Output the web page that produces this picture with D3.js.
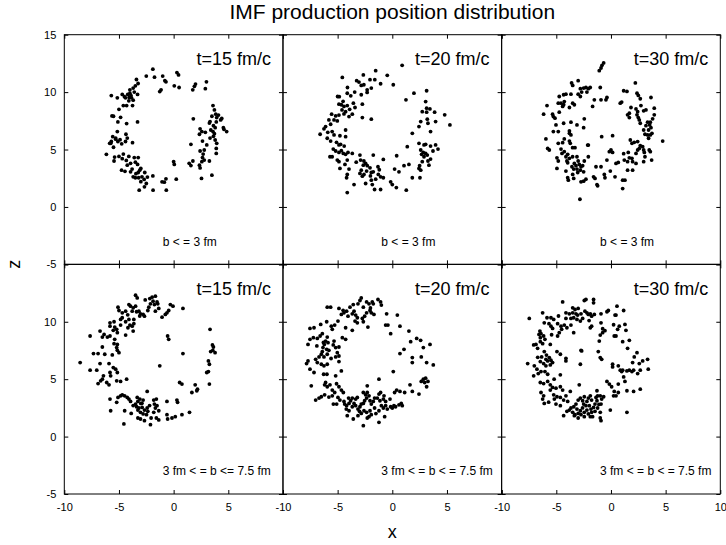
<!DOCTYPE html>
<html>
<head>
<meta charset="utf-8">
<script src="https://cdn.jsdelivr.net/npm/d3@7"></script>
<style>
  body { margin: 0; background: #fff; }
  svg { display: block; font-family: "Liberation Sans", Arial, sans-serif; }
</style>
</head>
<body>
<div id="chart"></div>
<script>
// panel captions
const times = ['t=15 fm/c', 't=20 fm/c', 't=30 fm/c'];
const centralLabels = ['b < = 3 fm', 'b < = 3 fm', 'b < = 3 fm'];
const midLabels = ['3 fm < = b <= 7.5 fm', '3 fm < = b < = 7.5 fm', '3 fm < = b < = 7.5 fm'];
const xTicks = [-10, -5, 0, 5, 10];
const yTicks = [-5, 0, 5, 10, 15];

// b <= 3 fm, t = 15 fm/c   [x, z]
const central15 = [
  [-1.9,12.0],[-2.5,11.4],[-1.75,11.3],[-1.0,11.4],[-0.8,11.0],[-0.7,10.9],[0.3,11.7],[0.45,11.5],[0.06,10.55],[0.5,10.4],
  [-1.15,10.2],[-1.27,10.05],[2.0,10.7],[1.9,10.5],[1.75,10.2],[3.0,10.9],[2.9,10.3],[-3.4,11.1],[-3.25,10.75],[-3.5,10.55],
  [-3.7,10.35],[-4.0,10.2],[-3.6,10.0],[-4.2,9.8],[-3.9,9.7],[-4.06,9.53],[-3.85,9.5],[-3.3,9.8],[-4.4,9.5],[-4.7,9.8],
  [-5.15,9.5],[-5.7,9.7],[-4.1,9.24],[-4.6,8.83],[-4.3,8.83],[-3.76,8.83],[-5.0,8.5],[-5.5,7.9],[-4.85,7.8],[-5.1,7.4],
  [-4.3,7.26],[-3.3,7.4],[-5.7,5.7],[-5.85,5.54],[-5.3,5.9],[-5.1,5.7],[-4.9,5.86],[-4.36,6.33],[-4.24,6.0],[-4.4,5.7],
  [-4.75,5.5],[-5.5,5.2],[-3.76,5.6],[-6.15,4.58],[-5.4,4.34],[-5.0,4.4],[-4.7,4.2],[-5.45,4.0],[-4.33,4.05],[-3.6,4.3],
  [-3.24,4.3],[-3.5,3.9],[-3.3,3.7],[-3.94,3.8],[-4.24,3.64],[-4.76,3.2],[-4.45,3.1],[-3.94,3.06],[-3.0,3.35],[-3.24,3.0],
  [-2.64,3.0],[-3.7,2.62],[-3.5,2.54],[-3.2,2.54],[-2.9,2.62],[-2.7,2.4],[-3.0,2.2],[-2.5,2.04],[-1.9,2.7],[-3.15,1.46],
  [-2.67,1.75],[-1.88,1.46],[-1.06,2.19],[-0.85,2.16],[-0.7,2.45],[-0.67,1.46],[0.24,2.42],[0.0,3.94],[0.06,3.7],[1.58,5.45],
  [1.42,3.8],[1.58,3.6],[1.76,4.0],[1.8,7.67],[2.42,6.8],[2.58,6.56],[2.36,6.33],[2.9,6.5],[3.33,7.43],[3.27,7.3],
  [3.6,8.83],[3.73,8.45],[3.85,8.08],[3.94,7.78],[4.1,8.0],[4.3,7.58],[3.9,7.4],[3.64,7.08],[3.4,6.7],[3.6,6.56],
  [3.73,6.38],[3.64,6.15],[3.8,5.83],[3.33,6.0],[3.94,5.54],[3.9,5.1],[3.9,4.66],[2.64,5.74],[3.03,5.4],[2.42,4.87],
  [2.8,4.96],[2.64,4.3],[2.58,3.94],[2.8,4.08],[3.27,4.0],[2.36,3.64],[2.42,3.4],[2.55,2.48],[3.5,2.77],[4.6,6.76],
  [4.85,6.56],[4.55,6.9],[4.4,7.7],[-5.64,7.93],[-5.57,6.12],[-5.75,5.54],[-5.15,6.56],[-4.0,9.9],[-3.7,9.3],[-5.3,6.0],
  [-4.6,4.6],[-3.8,3.3],[-2.4,2.6],[-3.1,3.2],[-4.1,4.4],[3.5,7.9],[3.8,6.9],[2.7,4.6],[-4.5,9.6],[-3.45,2.9]
];

// b <= 3 fm, t = 20 fm/c
const central20 = [
  [0.9,12.33],[-4.57,11.28],[-3.26,11.0],[-2.65,11.5],[-2.04,11.08],[-1.52,11.87],[-1.6,11.08],[-0.46,11.46],[-1.07,10.73],[0.09,10.64],
  [-3.05,10.87],[-2.84,10.58],[-2.6,10.64],[-1.92,10.35],[-4.1,10.4],[-3.44,10.0],[-3.8,9.68],[-5.0,9.62],[-4.85,9.6],[-4.12,9.9],
  [-2.84,9.77],[-2.3,9.97],[-2.3,10.2],[-2.74,8.95],[-3.56,9.04],[-4.88,8.95],[-4.66,8.9],[-4.42,8.75],[-4.12,8.83],[-3.41,8.66],
  [-4.6,8.45],[-4.27,8.3],[-4.42,8.1],[-3.66,8.08],[-3.96,7.87],[-4.88,8.0],[-5.55,8.08],[-5.18,7.93],[-2.74,7.78],[-1.92,7.64],
  [-5.03,7.49],[-5.33,7.58],[-5.8,7.58],[-5.64,7.2],[-6.1,7.0],[-6.25,6.8],[-6.6,6.33],[-5.5,6.56],[-5.33,6.27],[-4.27,6.7],
  [-5.95,5.98],[-5.64,5.74],[-4.79,6.2],[-5.1,5.63],[-4.88,5.4],[-4.73,5.45],[-4.27,6.12],[-5.4,5.04],[-5.18,4.87],[-4.88,4.75],
  [-4.66,4.9],[-4.48,4.66],[-4.27,4.58],[-4.05,4.75],[-3.66,4.66],[-5.7,4.37],[-5.5,4.37],[-5.03,4.08],[-4.88,3.94],[-4.12,4.08],
  [-4.33,3.7],[-4.79,3.35],[-3.96,3.3],[-4.12,2.83],[-4.18,2.54],[-3.5,1.95],[-4.12,1.25],[-2.96,4.52],[-2.9,4.08],[-2.6,4.0],
  [-2.44,3.79],[-2.29,3.59],[-2.65,3.64],[-2.84,3.2],[-2.96,2.92],[-2.74,2.68],[-2.59,2.83],[-2.35,3.12],[-2.04,3.41],[-1.92,3.0],
  [-1.74,3.06],[-1.31,3.5],[-1.19,3.24],[-1.28,2.83],[-1.07,2.62],[-0.82,2.54],[-1.52,2.42],[-1.92,2.33],[-2.44,2.04],[-1.83,1.95],
  [-1.62,1.52],[-1.07,1.52],[-1.74,4.52],[-0.82,4.14],[-0.15,2.19],[0.0,1.95],[0.37,1.69],[1.28,1.46],[0.21,3.3],[0.61,3.06],
  [0.4,4.46],[1.07,3.59],[1.52,3.7],[1.83,2.54],[2.53,2.54],[2.44,3.35],[2.6,3.2],[2.5,3.59],[2.74,3.94],[2.9,4.37],
  [2.68,4.58],[2.83,4.75],[3.05,4.66],[3.2,4.52],[3.26,4.0],[3.35,3.64],[3.5,4.17],[2.9,5.4],[3.05,5.45],[3.5,5.3],
  [3.96,5.4],[4.18,5.04],[3.72,4.87],[2.6,4.96],[2.44,5.54],[1.37,5.25],[1.83,6.41],[2.44,7.0],[2.6,7.43],[3.2,7.64],
  [3.26,7.29],[3.5,6.56],[3.96,7.43],[3.14,8.25],[2.74,8.3],[3.87,8.25],[3.14,8.6],[3.44,8.54],[3.05,9.18],[3.14,10.12],
  [1.98,9.91],[1.25,9.33],[4.79,8.02],[5.27,7.14],[-4.5,9.2],[-3.9,8.5],[-5.9,6.5],[-4.4,5.3],[-3.3,3.9],[-2.0,2.7]
];

// b <= 3 fm, t = 30 fm/c
const central30 = [
  [-0.91,12.1],[-0.82,12.33],[-0.67,12.54],[-1.07,11.87],[-3.6,10.8],[-3.5,10.58],[-3.0,11.0],[-2.8,10.3],[-2.5,10.35],[-2.29,10.4],
  [-2.07,10.3],[-1.9,10.4],[-2.2,10.0],[-2.68,10.0],[-3.0,9.82],[-2.8,9.62],[-0.98,10.4],[-0.91,9.33],[-1.52,9.33],[-0.37,9.53],
  [-0.46,9.33],[-1.68,8.75],[-4.12,9.82],[-4.33,9.77],[-3.66,9.82],[-4.73,9.62],[-4.82,9.04],[-4.57,9.04],[-4.33,8.9],[-4.27,9.18],
  [-4.42,8.75],[-3.5,9.04],[-3.35,8.9],[-3.8,8.66],[-5.85,8.83],[-6.16,8.08],[-5.34,8.08],[-5.27,7.87],[-5.12,7.73],[-4.73,8.25],
  [-5.03,7.14],[-4.33,7.29],[-3.66,7.38],[-3.11,7.14],[-2.44,7.67],[-5.27,6.56],[-4.82,6.56],[-3.8,6.41],[-3.66,6.27],[-5.95,5.92],
  [-4.27,5.92],[-4.82,5.54],[-4.42,5.6],[-3.8,5.74],[-3.72,5.54],[-5.79,5.1],[-5.64,4.96],[-4.57,5.04],[-3.51,5.16],[-3.29,5.16],
  [-2.13,5.39],[-4.27,4.81],[-4.48,4.66],[-3.96,4.58],[-4.12,4.37],[-3.8,4.23],[-4.94,4.28],[-4.82,4.0],[-4.03,4.0],[-3.51,4.37],
  [-3.11,4.37],[-3.0,4.0],[-3.35,3.79],[-3.2,3.59],[-2.9,3.7],[-2.74,3.5],[-2.59,3.59],[-2.44,4.0],[-2.07,4.37],[-3.96,3.85],
  [-3.57,3.5],[-3.41,3.3],[-3.11,3.3],[-2.8,3.2],[-3.04,3.0],[-2.5,3.06],[-4.94,3.35],[-4.12,3.12],[-3.5,2.83],[-3.96,2.54],
  [-3.9,2.33],[-3.41,2.48],[-2.74,2.19],[-2.5,2.24],[-2.29,2.42],[-1.59,2.62],[-1.46,2.48],[-1.28,1.95],[-1.22,1.84],[-1.37,3.5],
  [-0.91,3.5],[-0.61,2.83],[-0.55,2.54],[-0.06,3.12],[0.37,2.62],[0.46,3.79],[0.67,3.88],[1.07,2.33],[1.28,2.33],[1.07,1.6],
  [-2.84,0.67],[-0.37,4.08],[-0.15,4.81],[0.0,4.96],[0.15,4.75],[-0.85,6.12],[0.15,6.21],[-2.07,5.39],[1.16,4.64],[1.58,4.75],
  [1.22,4.08],[1.52,3.94],[1.92,4.23],[1.68,4.28],[1.52,3.2],[1.98,3.2],[1.98,3.94],[2.29,3.79],[2.44,4.96],[2.59,5.1],
  [2.29,4.66],[1.77,5.83],[1.92,5.54],[2.13,5.63],[2.44,5.69],[2.68,5.34],[2.9,5.25],[2.99,4.96],[3.05,4.75],[3.5,4.96],
  [3.6,4.81],[3.11,4.37],[2.99,3.94],[3.72,4.08],[3.44,5.98],[3.35,6.27],[3.11,6.33],[3.6,6.27],[3.75,6.41],[3.44,6.7],
  [3.66,6.9],[3.54,7.14],[3.2,7.08],[2.99,6.7],[3.35,7.38],[2.68,7.29],[2.5,7.78],[2.59,7.58],[2.38,8.02],[2.44,8.3],
  [1.68,7.78],[1.52,8.02],[1.68,8.16],[1.83,8.66],[2.29,8.54],[2.99,8.37],[3.2,8.45],[3.96,8.6],[3.96,8.02],[3.81,7.67],
  [3.6,7.38],[2.68,9.42],[2.74,8.83],[2.5,9.71],[2.38,9.91],[3.66,9.53],[1.16,10.12],[1.46,10.06],[2.23,10.8],[0.85,9.04],
  [0.98,9.13],[4.73,5.74],[-3.8,6.62],[-2.5,6.9]
];

// 3 fm <= b <= 7.5 fm, t = 15 fm/c
const mid15 = [
  [-3.48,12.31],[-3.33,12.08],[-2.18,12.02],[-1.97,12.14],[-1.67,12.23],[-1.88,11.79],[-2.12,11.56],[-1.76,11.5],[-1.45,11.56],[-1.52,11.73],
  [-0.3,11.5],[-0.06,11.36],[0.85,11.16],[-4.09,11.5],[-3.94,11.36],[-3.7,11.21],[-3.48,11.36],[-3.79,10.92],[-3.39,10.87],[-3.18,10.92],
  [-3.03,10.69],[-2.79,10.64],[-2.67,10.49],[-2.27,11.27],[-2.36,10.98],[-1.67,10.92],[-1.36,11.16],[-1.06,10.4],[-0.76,10.64],[-0.61,10.78],
  [-0.45,10.98],[-5.09,11.27],[-5.0,10.98],[-4.7,10.78],[-4.39,10.92],[-4.85,10.2],[-4.7,10.35],[-4.39,10.0],[-4.09,10.2],[-3.64,10.2],
  [-3.64,9.83],[-4.0,9.71],[-4.18,9.48],[-3.79,9.62],[-5.82,9.91],[-5.45,10.0],[-5.82,9.62],[-5.39,9.54],[-5.52,9.25],[-5.21,9.34],
  [-5.15,9.05],[-4.39,8.84],[-3.7,9.19],[-6.73,9.19],[-6.36,8.9],[-6.52,8.67],[-6.06,8.67],[-5.82,8.76],[-7.64,8.76],[-5.39,8.47],
  [-5.15,8.03],[-5.21,7.75],[-5.15,7.51],[-5.0,7.31],[-6.52,7.8],[-7.33,7.23],[-6.91,7.23],[-6.3,7.17],[-5.61,7.11],[-8.55,6.45],
  [-6.73,6.36],[-5.91,6.36],[-7.64,5.78],[-7.03,5.78],[-5.52,6.01],[-5.3,5.87],[-5.15,5.58],[-5.82,5.58],[-6.42,5.29],[-6.52,5.0],
  [-6.67,4.86],[-5.76,5.29],[-6.12,4.71],[-5.91,4.51],[-6.91,4.62],[-5.21,4.86],[-4.85,4.8],[-4.3,5.0],[-5.82,3.27],[-5.76,2.25],
  [-5.09,3.41],[-4.85,3.55],[-4.7,3.64],[-4.48,3.55],[-4.24,3.41],[-4.09,3.27],[-3.94,3.06],[-5.21,2.98],[-4.48,2.25],[-3.88,2.02],
  [-4.55,1.1],[-3.33,3.41],[-3.09,3.27],[-3.27,3.06],[-3.0,2.89],[-2.79,3.18],[-3.48,2.83],[-3.39,2.6],[-3.18,2.49],[-2.88,2.54],
  [-2.67,2.31],[-3.27,2.31],[-3.03,2.11],[-2.79,1.97],[-2.42,2.49],[-2.36,2.2],[-2.48,1.91],[-3.27,1.62],[-3.03,1.53],[-2.67,1.39],
  [-2.12,1.04],[-2.06,1.62],[-1.82,3.18],[-1.58,3.27],[-1.76,2.83],[-1.52,2.69],[-1.67,2.49],[-1.36,2.25],[-1.82,2.11],[-1.58,1.62],
  [-1.36,1.45],[-0.61,3.06],[-0.61,1.91],[-0.55,1.53],[-0.15,1.62],[0.15,1.73],[0.76,1.91],[1.45,2.11],[0.3,3.18],[0.36,2.98],
  [-2.42,3.93],[-1.27,6.16],[-0.55,8.76],[-0.45,8.47],[0.85,7.23],[0.55,4.71],[0.76,4.57],[1.97,4.51],[2.18,4.13],[2.12,3.99],
  [1.67,3.84],[3.27,4.57],[3.18,5.66],[3.03,5.58],[3.27,6.3],[3.18,6.59],[3.39,7.4],[3.58,7.51],[3.64,7.8],[3.79,7.31],
  [3.55,7.98],[3.33,9.34],[-4.85,9.71],[-5.45,8.09],[-2.6,11.9],[-4.2,10.6],[-3.1,10.5],[-2.9,2.9],[-3.7,2.7],[-2.2,2.7]
];

// 3 fm <= b <= 7.5 fm, t = 20 fm/c
const mid20 = [
  [-2.84,12.08],[-2.96,11.85],[-3.14,11.56],[-3.57,11.5],[-3.87,11.27],[-4.18,10.92],[-4.88,11.16],[-5.95,11.27],[-5.64,11.27],[-4.66,10.64],
  [-4.42,10.78],[-4.05,10.49],[-3.66,10.69],[-3.5,10.92],[-3.35,10.58],[-3.2,10.35],[-3.41,10.06],[-3.2,9.91],[-2.65,11.27],[-2.35,11.73],
  [-2.13,11.56],[-1.83,11.73],[-1.74,11.56],[-1.31,11.94],[-1.07,11.73],[-1.0,11.45],[-2.04,10.98],[-1.92,10.78],[-1.68,10.64],[-2.35,10.78],
  [-2.53,10.49],[-2.74,10.29],[-2.65,10.0],[-2.23,9.54],[-0.52,10.69],[0.46,10.58],[-0.61,9.71],[-0.4,9.71],[0.7,9.62],[-0.15,8.96],
  [1.52,9.19],[-4.27,9.48],[-3.66,9.25],[-4.97,10.06],[-5.27,9.71],[-5.58,9.62],[-5.49,9.34],[-6.0,10.0],[-6.55,9.77],[-7.16,9.48],
  [-7.53,9.42],[-6.4,8.96],[-6.6,8.76],[-6.86,8.55],[-7.22,8.61],[-7.53,8.47],[-7.71,8.03],[-5.95,8.67],[-6.1,8.32],[-5.88,8.18],
  [-6.22,8.03],[-6.34,7.75],[-6.0,7.6],[-5.8,7.51],[-5.33,8.32],[-5.4,7.98],[-5.18,7.75],[-4.88,7.8],[-4.57,8.61],[-4.27,8.47],
  [-5.03,7.31],[-4.88,7.02],[-5.18,6.94],[-6.4,7.4],[-6.49,7.17],[-6.7,6.94],[-7.01,6.73],[-6.25,6.94],[-5.95,7.17],[-6.86,6.45],
  [-6.49,6.3],[-6.25,6.16],[-7.71,6.59],[-7.84,6.36],[-7.53,5.87],[-7.16,5.58],[-5.95,6.3],[-4.88,6.53],[-4.66,5.72],[-5.18,5.29],
  [-6.28,5.43],[-5.98,5.43],[-7.41,4.42],[-6.1,4.71],[-6.19,4.51],[-5.95,4.34],[-5.7,4.51],[-5.49,4.05],[-5.27,3.84],[-4.88,4.34],
  [-4.66,4.05],[-4.48,3.84],[-5.49,3.55],[-4.97,3.41],[-4.79,3.18],[-5.09,2.83],[-5.39,2.83],[-6.19,3.64],[-6.49,3.47],[-7.01,3.18],
  [-6.7,3.35],[-5.8,3.44],[-4.42,3.06],[-4.36,2.83],[-4.18,2.69],[-3.96,2.89],[-3.81,3.12],[-3.66,3.35],[-3.5,2.89],[-3.35,3.27],
  [-3.2,3.41],[-4.0,3.35],[-4.21,2.4],[-3.96,2.25],[-3.66,2.6],[-3.35,2.69],[-3.14,2.4],[-2.96,2.6],[-2.84,2.83],[-2.65,2.89],
  [-2.53,3.12],[-2.35,3.35],[-2.29,3.84],[-2.65,3.84],[-2.44,3.64],[-2.13,3.55],[-2.04,3.12],[-1.92,2.83],[-1.74,3.06],[-1.62,3.35],
  [-2.29,4.42],[-1.22,3.7],[-1.07,3.84],[-1.37,3.35],[-1.13,3.12],[-0.82,3.27],[-0.61,3.06],[-0.76,3.55],[-0.21,3.27],[-1.0,2.69],
  [-0.82,2.49],[-0.61,2.69],[-0.46,2.4],[-0.15,2.6],[0.0,2.49],[0.15,2.69],[0.3,2.6],[0.61,2.77],[0.82,2.89],[0.91,2.69],
  [-1.22,2.25],[-1.62,2.49],[-2.04,2.25],[-2.35,2.11],[-2.59,2.25],[-2.84,2.02],[-2.13,1.73],[-1.92,1.91],[-2.29,1.62],[-3.14,1.82],
  [-4.12,1.82],[-3.57,1.53],[-2.65,0.95],[-1.22,1.24],[-0.7,1.73],[0.21,3.84],[0.4,4.05],[0.7,3.93],[1.13,3.84],[1.62,4.51],
  [1.83,3.93],[2.44,3.7],[2.65,4.8],[2.84,5.0],[3.05,5.09],[2.96,4.71],[3.14,4.34],[3.26,4.8],[0.09,5.66],[-1.22,5.0],
  [1.83,6.45],[1.83,6.88],[0.7,7.23],[1.07,7.6],[2.65,6.94],[2.84,7.75],[3.14,6.45],[3.75,6.24],[3.45,8.03],[2.59,8.38],
  [2.23,8.55],[1.68,8.27],[-6.3,8.2],[-5.6,6.8],[-3.0,2.2],[-1.5,2.0],[-4.5,11.0],[-2.0,11.2],[-6.9,7.9],[-5.1,4.6]
];

// 3 fm <= b <= 7.5 fm, t = 30 fm/c
const mid30 = [
  [-2.44,11.85],[-2.29,11.94],[-1.59,11.94],[-1.59,11.65],[-4.42,11.73],[-3.5,11.21],[-3.29,11.07],[-3.0,11.16],[-4.12,10.78],[-3.81,10.69],
  [-3.5,10.78],[-3.2,10.69],[-3.05,10.58],[-2.74,10.69],[-2.38,10.92],[-2.2,10.78],[-2.07,10.64],[-1.89,10.69],[-1.77,10.49],[-1.52,10.64],
  [-0.91,10.69],[-0.37,10.87],[-0.24,10.98],[0.55,11.36],[0.37,10.58],[1.16,10.98],[-4.12,10.29],[-3.66,10.29],[-3.41,10.35],[-3.11,10.2],
  [-2.8,10.06],[-2.59,10.29],[-6.25,10.78],[-5.85,10.35],[-5.49,10.35],[-5.24,10.2],[-6.1,9.91],[-5.67,9.83],[-5.49,9.62],[-5.34,9.42],
  [-4.88,9.83],[-4.57,9.62],[-4.27,9.71],[-4.51,9.34],[-4.73,9.05],[-4.88,8.76],[-4.03,9.48],[-3.66,9.71],[-7.47,10.29],[-6.5,9.19],
  [-6.58,8.9],[-6.4,8.96],[-6.46,8.61],[-6.16,8.76],[-6.04,8.47],[-6.46,8.27],[-6.25,8.09],[-6.86,8.03],[-7.07,7.98],[-6.71,7.69],
  [-5.55,8.03],[-5.43,8.87],[-3.41,9.05],[-6.1,7.4],[-4.94,7.4],[-4.63,7.17],[-4.12,6.82],[-2.74,7.51],[-6.34,6.94],[-5.95,6.73],
  [-5.64,6.88],[-5.49,6.65],[-5.79,6.59],[-6.46,6.53],[-6.16,6.36],[-5.95,6.16],[-5.55,6.24],[-5.34,6.45],[-7.62,6.36],[-7.01,6.16],
  [-6.77,5.87],[-6.4,5.66],[-6.04,5.66],[-5.79,5.43],[-7.07,5.29],[-6.65,5.49],[-4.63,5.38],[-6.46,4.71],[-6.16,4.62],[-5.79,4.8],
  [-5.55,4.51],[-5.34,4.28],[-5.55,4.05],[-5.03,4.22],[-4.63,4.34],[-4.42,4.05],[-3.72,3.93],[-6.4,3.84],[-6.16,3.55],[-6.25,3.27],
  [-5.24,3.64],[-4.94,3.47],[-5.18,3.27],[-4.63,3.41],[-4.33,3.18],[-4.12,3.55],[-6.1,2.89],[-5.03,2.83],[-4.63,2.69],[-3.96,3.06],
  [-3.66,2.49],[-3.81,2.31],[-3.5,2.11],[-4.03,2.2],[-4.33,1.82],[-3.29,1.91],[-3.0,2.02],[-2.8,2.25],[-3.11,2.4],[-3.2,2.83],
  [-3.0,3.18],[-2.8,3.35],[-2.59,3.12],[-2.44,3.47],[-2.5,2.83],[-2.29,2.69],[-2.2,3.06],[-2.07,3.35],[-1.89,3.55],[-1.77,3.18],
  [-1.98,2.69],[-1.83,2.4],[-2.2,2.31],[-2.44,2.11],[-2.74,1.91],[-2.07,1.97],[-1.77,2.11],[-1.59,2.54],[-1.46,2.83],[-1.28,3.12],
  [-1.37,3.41],[-1.22,3.55],[-1.28,3.99],[-0.98,3.55],[-0.85,3.27],[-0.67,3.47],[-0.91,2.83],[-1.22,2.49],[-1.46,2.2],[-0.98,2.11],
  [-0.98,1.62],[-0.91,1.39],[-1.68,1.73],[-2.44,1.73],[-3.0,1.62],[-3.35,1.82],[-1.89,1.73],[-0.06,2.31],[-0.37,4.8],[-0.15,4.57],
  [0.06,4.34],[0.3,3.93],[0.46,3.55],[0.24,3.55],[0.67,3.84],[0.67,4.57],[1.46,3.99],[2.07,3.93],[2.68,4.13],[1.46,2.11],
  [1.16,5.2],[1.28,4.8],[0.98,5.66],[0.85,5.78],[1.07,5.78],[1.46,5.72],[1.68,5.78],[1.92,5.66],[2.07,5.78],[2.44,5.49],
  [2.68,5.78],[1.98,6.45],[2.59,6.36],[2.9,6.59],[3.35,6.73],[3.41,5.87],[2.38,7.31],[2.13,6.94],[1.52,7.69],[1.68,8.38],
  [1.07,8.27],[0.15,6.3],[0.15,6.07],[0.3,8.76],[0.46,8.76],[0.61,9.34],[0.76,9.62],[1.28,9.77],[1.37,9.25],[0.24,9.74],
  [0.46,10.58],[-0.55,9.22],[-0.76,9.05],[-0.98,8.84],[-1.07,8.32],[-1.16,7.4],[-0.98,6.88],[-0.85,6.73],[-0.91,9.91],[-0.76,9.39],
  [-1.77,9.62],[-1.89,9.48],[-2.8,6.3],[-2.68,7.46],[-4.12,6.59],[-2.9,4.51],[0.67,6.16],[-5.9,7.1],[-5.2,5.0],[-2.6,2.5],
  [-3.4,2.6],[-2.0,10.1],[-4.8,10.5],[-6.7,6.9],[-1.1,2.8],[-5.7,3.0]
];

const panels = [
  { row: 0, col: 0, pts: central15, time: times[0], note: centralLabels[0] },
  { row: 0, col: 1, pts: central20, time: times[1], note: centralLabels[1] },
  { row: 0, col: 2, pts: central30, time: times[2], note: centralLabels[2] },
  { row: 1, col: 0, pts: mid15, time: times[0], note: midLabels[0] },
  { row: 1, col: 1, pts: mid20, time: times[1], note: midLabels[1] },
  { row: 1, col: 2, pts: mid30, time: times[2], note: midLabels[2] }
];

const width = 726;
const height = 545;
const margin = { top: 34.7, right: 5.7, bottom: 51, left: 64.3 };
const pw = (width - margin.left - margin.right) / 3;
const ph = (height - margin.top - margin.bottom) / 2;

const svg = d3.select('#chart')
  .append('svg')
  .attr('width', width)
  .attr('height', height);

panels.forEach(p => {
  const x0 = margin.left + p.col * pw;
  const y0 = margin.top + p.row * ph;

  const x = d3.scaleLinear().domain([-10, 10]).range([x0, x0 + pw]);
  const y = d3.scaleLinear().domain([-5, 15]).range([y0 + ph, y0]);

  const g = svg.append('g');

  // bottom axis, labels only on the lower row
  const xLabels = p.row === 1 ? (p.col === 2 ? xTicks : xTicks.slice(0, 4)) : [];
  g.append('g')
    .attr('transform', `translate(0,${y0 + ph})`)
    .call(d3.axisBottom(x).tickValues(xTicks).tickSizeInner(-4).tickSizeOuter(0).tickPadding(9)
      .tickFormat(d => xLabels.includes(d) ? String(d) : ''))
    .attr('class', 'axis');

  g.append('g')
    .attr('transform', `translate(0,${y0})`)
    .call(d3.axisTop(x).tickValues(xTicks).tickSizeInner(-4).tickSizeOuter(0).tickFormat(''))
    .attr('class', 'axis');

  // left axis, labels only in the first column
  const yLabels = p.col === 0 ? (p.row === 0 ? yTicks : yTicks.slice(0, 4)) : [];
  g.append('g')
    .attr('transform', `translate(${x0},0)`)
    .call(d3.axisLeft(y).tickValues(yTicks).tickSizeInner(-4).tickSizeOuter(0).tickPadding(8)
      .tickFormat(d => yLabels.includes(d) ? String(d) : ''))
    .attr('class', 'axis');

  g.append('g')
    .attr('transform', `translate(${x0 + pw},0)`)
    .call(d3.axisRight(y).tickValues(yTicks).tickSizeInner(-4).tickSizeOuter(0).tickFormat(''))
    .attr('class', 'axis');

  g.selectAll('.axis .domain').remove();
  g.selectAll('.axis line').attr('stroke', '#000');
  g.selectAll('.axis text')
    .attr('fill', '#000')
    .style('font-family', '"Liberation Sans", Arial, sans-serif')
    .style('font-size', '11px');

  // frame
  g.append('rect')
    .attr('x', x0)
    .attr('y', y0)
    .attr('width', pw)
    .attr('height', ph)
    .attr('fill', 'none')
    .attr('stroke', '#000')
    .attr('stroke-width', 1);

  // points
  g.selectAll('circle')
    .data(p.pts)
    .enter()
    .append('circle')
    .attr('cx', d => x(d[0]))
    .attr('cy', d => y(d[1]))
    .attr('r', 1.9)
    .attr('fill', '#000');

  g.append('text')
    .attr('x', x(8.9))
    .attr('y', y(12.9))
    .attr('dy', '0.35em')
    .attr('text-anchor', 'end')
    .style('font-size', '18px')
    .text(p.time);

  g.append('text')
    .attr('x', x(-1))
    .attr('y', y(-3))
    .attr('dy', '0.35em')
    .style('font-size', '12px')
    .text(p.note);
});

// title and axis names
svg.append('text')
  .attr('x', margin.left + 1.5 * pw)
  .attr('y', 12)
  .attr('dy', '0.35em')
  .attr('text-anchor', 'middle')
  .style('font-size', '21px')
  .text('IMF production position distribution');

svg.append('text')
  .attr('x', margin.left + 1.5 * pw)
  .attr('y', 532)
  .attr('dy', '0.35em')
  .attr('text-anchor', 'middle')
  .style('font-size', '18px')
  .text('x');

svg.append('text')
  .attr('transform', `translate(14,${margin.top + ph}) rotate(-90)`)
  .attr('dy', '0.35em')
  .attr('text-anchor', 'middle')
  .style('font-size', '18px')
  .text('z');
</script>
</body>
</html>
